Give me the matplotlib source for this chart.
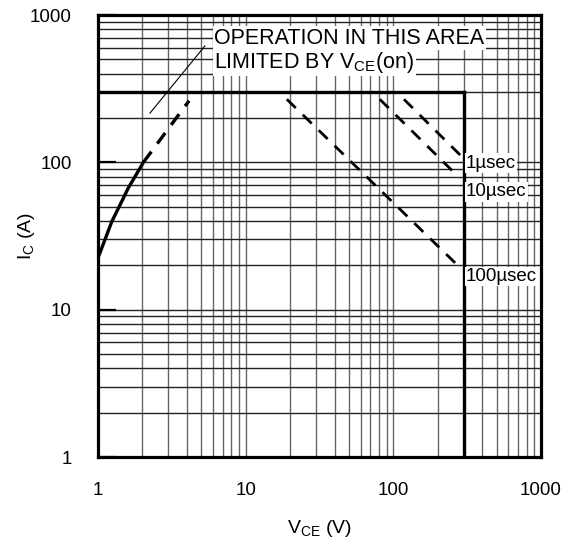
import numpy as np
import matplotlib
matplotlib.use("Agg")
import matplotlib.pyplot as plt

plt.rcParams["font.family"] = ["Liberation Sans", "DejaVu Sans"]
plt.rcParams["mathtext.default"] = "regular"

# safe operating area
limit_current = 300.0      # A, horizontal limit
limit_voltage = 300.0      # V, vertical limit

# V_CE(on) limited region: solid part then dashed continuation
von_solid_v = [1.0, 1.24, 1.41, 1.6, 2.03]
von_solid_i = [22.4, 39.6, 51.4, 66.7, 100.0]
von_dash_v = [2.03, 4.14]
von_dash_i = [100.0, 262.0]

# pulse lines (V, A)
pulse_1us_v = [118.0, 284.0]
pulse_1us_i = [268.0, 112.0]
pulse_10us_v = [81.0, 250.0]
pulse_10us_i = [268.0, 88.0]
pulse_100us_v = [19.0, 262.0]
pulse_100us_i = [268.0, 20.8]

pulse_labels = ["1µsec", "10µsec", "100µsec"]
pulse_label_i = [98.6, 63.2, 16.8]

fig = plt.figure(figsize=(5.72, 5.39), dpi=100)
ax = fig.add_axes([0.1713, 0.1521, 0.7745, 0.820])
ax.set_xscale("log")
ax.set_yscale("log")
ax.set_xlim(1, 1000)
ax.set_ylim(1, 1000)

ax.grid(True, which="both", axis="x", color="#666666", lw=1.0)
ax.grid(True, which="both", axis="y", color="#222222", lw=1.0)

for sp in ax.spines.values():
    sp.set_linewidth(2.3)

ax.tick_params(which="minor", length=0)
ax.tick_params(axis="x", which="major", length=0, pad=18, labelsize=13.5)
ax.tick_params(axis="y", which="major", direction="in", length=13, width=1.6,
               pad=19, labelsize=13.5)
ax.set_xticks([1, 10, 100, 1000])
ax.set_xticklabels(["1", "10", "100", "1000"])
ax.set_yticks([1, 10, 100, 1000])
ax.set_yticklabels(["1", "10", "100", "1000"])

# limits
ax.plot([1, limit_voltage], [limit_current, limit_current], color="black", lw=2.4)
ax.plot([limit_voltage, limit_voltage], [1, limit_current], color="black", lw=2.4)

ax.plot(von_solid_v, von_solid_i, color="black", lw=2.4)
ax.plot(von_dash_v, von_dash_i, color="black", lw=2.4, dashes=(4, 3))

for xs, ys in [(pulse_1us_v, pulse_1us_i), (pulse_10us_v, pulse_10us_i),
               (pulse_100us_v, pulse_100us_i)]:
    ax.plot(xs, ys, color="black", lw=2.0, dashes=(4.5, 3.5))

box = dict(facecolor="white", edgecolor="none", pad=1.0)
for lab, yi in zip(pulse_labels, pulse_label_i):
    ax.text(310, yi, lab, ha="left", va="center", fontsize=13.5, bbox=box, zorder=5)

# annotation
ax.text(6.15, 696, "OPERATION IN THIS AREA", ha="left", va="center",
        fontsize=15.5, bbox=box, zorder=5)
ax.text(6.15, 477, "LIMITED BY $V_{CE}$(on)", ha="left", va="center",
        fontsize=15.5, bbox=box, zorder=5)
ax.plot([2.25, 5.3], [216, 617], color="black", lw=0.8)

ax.set_xlabel("$V_{CE}$ (V)", fontsize=14, labelpad=14)
ax.set_ylabel("$I_C$ (A)", fontsize=14, labelpad=-5)

fig.savefig("out.png", dpi=100)
